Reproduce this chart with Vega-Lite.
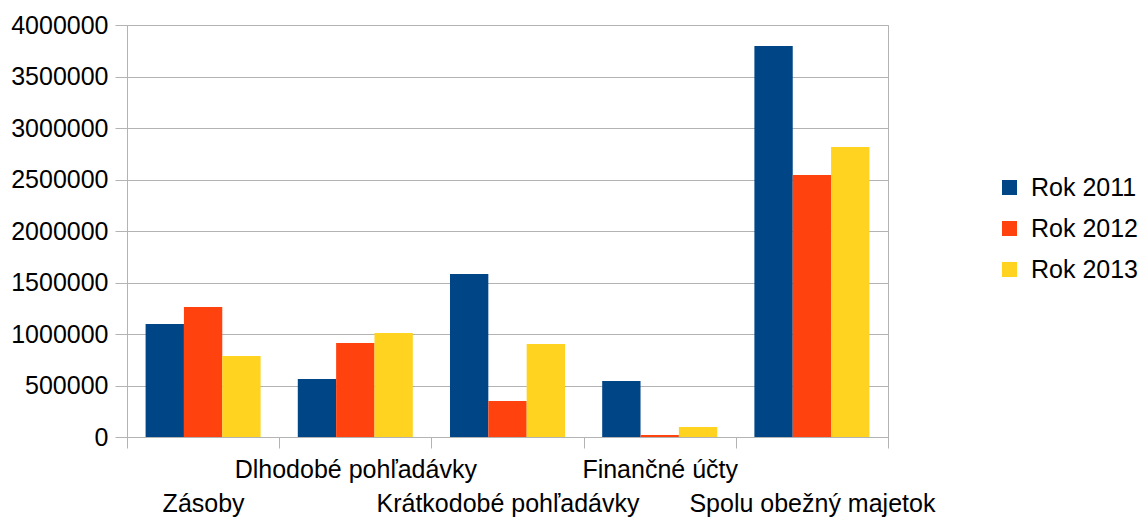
{
  "$schema": "https://vega.github.io/schema/vega-lite/v6.json",
  "width": 761,
  "height": 412,
  "autosize": {"type": "none"},
  "padding": {"left": 127, "top": 25, "right": 251, "bottom": 80},
  "background": "white",
  "config": {
    "font": "Liberation Sans",
    "view": {"stroke": "#b3b3b3", "strokeWidth": 1}
  },
  "data": {
    "values": [
      {"kategoria": "Zásoby", "rok": "Rok 2011", "hodnota": 1097000},
      {"kategoria": "Zásoby", "rok": "Rok 2012", "hodnota": 1262000},
      {"kategoria": "Zásoby", "rok": "Rok 2013", "hodnota": 786000},
      {"kategoria": "Dlhodobé pohľadávky", "rok": "Rok 2011", "hodnota": 563000},
      {"kategoria": "Dlhodobé pohľadávky", "rok": "Rok 2012", "hodnota": 913000},
      {"kategoria": "Dlhodobé pohľadávky", "rok": "Rok 2013", "hodnota": 1010000},
      {"kategoria": "Krátkodobé pohľadávky", "rok": "Rok 2011", "hodnota": 1583000},
      {"kategoria": "Krátkodobé pohľadávky", "rok": "Rok 2012", "hodnota": 350000},
      {"kategoria": "Krátkodobé pohľadávky", "rok": "Rok 2013", "hodnota": 903000},
      {"kategoria": "Finančné účty", "rok": "Rok 2011", "hodnota": 544000},
      {"kategoria": "Finančné účty", "rok": "Rok 2012", "hodnota": 20000},
      {"kategoria": "Finančné účty", "rok": "Rok 2013", "hodnota": 97000},
      {"kategoria": "Spolu obežný majetok", "rok": "Rok 2011", "hodnota": 3796000},
      {"kategoria": "Spolu obežný majetok", "rok": "Rok 2012", "hodnota": 2544000},
      {"kategoria": "Spolu obežný majetok", "rok": "Rok 2013", "hodnota": 2816000}
    ]
  },
  "mark": {"type": "bar"},
  "encoding": {
    "x": {
      "field": "kategoria",
      "type": "nominal",
      "sort": null,
      "scale": {"paddingInner": 0, "paddingOuter": 0},
      "axis": {
        "title": null,
        "labelAngle": 0,
        "tickBand": "extent",
        "tickSize": 11,
        "tickColor": "#b3b3b3",
        "domainColor": "#b3b3b3",
        "labelFontSize": 25,
        "labelColor": "#000000",
        "labelPadding": 9,
        "labelOverlap": false,
        "labelLimit": 0,
        "labelLineHeight": 34,
        "labelBaseline": "top",
        "labelExpr": "indexof(['Zásoby','Krátkodobé pohľadávky','Spolu obežný majetok'], datum.value) >= 0 ? ['', datum.label] : datum.label"
      }
    },
    "xOffset": {
      "field": "rok",
      "type": "nominal",
      "scale": {"paddingInner": 0, "paddingOuter": 0.485}
    },
    "y": {
      "field": "hodnota",
      "type": "quantitative",
      "scale": {"domain": [0, 4000000], "nice": false},
      "axis": {
        "title": null,
        "values": [0, 500000, 1000000, 1500000, 2000000, 2500000, 3000000, 3500000, 4000000],
        "format": "d",
        "gridColor": "#b3b3b3",
        "tickColor": "#b3b3b3",
        "tickSize": 12,
        "domainColor": "#b3b3b3",
        "labelFontSize": 25,
        "labelColor": "#000000",
        "labelPadding": 7
      }
    },
    "color": {
      "field": "rok",
      "type": "nominal",
      "scale": {
        "domain": ["Rok 2011", "Rok 2012", "Rok 2013"],
        "range": ["#004586", "#ff420e", "#ffd320"]
      },
      "legend": {
        "title": null,
        "orient": "none",
        "legendX": 870,
        "legendY": 150,
        "padding": 0,
        "symbolType": "square",
        "symbolSize": 225,
        "symbolStrokeWidth": 0,
        "labelFontSize": 25,
        "labelColor": "#000000",
        "labelOffset": 9,
        "rowPadding": 15
      }
    }
  }
}
